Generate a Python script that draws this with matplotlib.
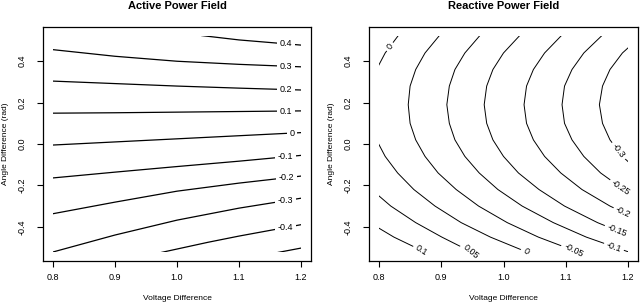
import numpy as np
import matplotlib.pyplot as plt
from matplotlib.patches import Rectangle

plt.rcParams['font.family'] = ['Liberation Sans', 'DejaVu Sans']

# data range of the grid (voltage, angle)
v_range = (0.8, 1.2)
a_range = (-0.5236, 0.5236)

# %% active power field: contour lines
active_levels = ['0.4', '0.3', '0.2', '0.1', '0', '-0.1', '-0.2', '-0.3', '-0.4', '-0.5']
active_v = [
    [1.04, 1.1, 1.2],
    [0.8, 0.9, 1.0, 1.1, 1.2],
    [0.8, 0.9, 1.0, 1.1, 1.2],
    [0.8, 0.9, 1.0, 1.1, 1.2],
    [0.8, 0.9, 1.0, 1.1, 1.2],
    [0.8, 0.9, 1.0, 1.1, 1.2],
    [0.8, 0.9, 1.0, 1.1, 1.2],
    [0.8, 0.9, 1.0, 1.1, 1.2],
    [0.975, 1.05, 1.1, 1.2],
    [1.163, 1.2],
]
active_angle = [
    [0.524, 0.503, 0.478],
    [0.456, 0.424, 0.400, 0.385, 0.373],
    [0.304, 0.292, 0.280, 0.270, 0.261],
    [0.149, 0.151, 0.154, 0.157, 0.160],
    [-0.005, 0.010, 0.025, 0.040, 0.055],
    [-0.164, -0.136, -0.109, -0.083, -0.055],
    [-0.337, -0.281, -0.228, -0.189, -0.155],
    [-0.522, -0.440, -0.368, -0.310, -0.262],
    [-0.524, -0.475, -0.445, -0.390],
    [-0.524, -0.503],
]
# voltage where each label sits (None = unlabelled)
active_label_v = [1.175, 1.175, 1.175, 1.175, 1.185, 1.175, 1.177, 1.175, 1.175, None]

# %% reactive power field: voltage of each arc at shared angles
reactive_theta = [0.524, 0.44, 0.36, 0.28, 0.19, 0.10, 0.02, -0.06,
                  -0.14, -0.22, -0.30, -0.38, -0.45, -0.524]
reactive_levels = ['0.1', '0.05', '0', '-0.05', '-0.1', '-0.15', '-0.2', '-0.25', '-0.3']
reactive_v = [
    [0.700, 0.682, 0.671, 0.664, 0.661, 0.664, 0.671, 0.682, 0.699, 0.721, 0.749, 0.785, 0.824, 0.875],
    [0.765, 0.746, 0.734, 0.726, 0.723, 0.726, 0.734, 0.746, 0.764, 0.788, 0.819, 0.859, 0.901, 0.950],
    [0.831, 0.810, 0.796, 0.788, 0.785, 0.788, 0.796, 0.810, 0.830, 0.856, 0.890, 0.932, 0.979, 1.039],
    [0.897, 0.874, 0.859, 0.850, 0.847, 0.850, 0.859, 0.874, 0.895, 0.924, 0.960, 1.006, 1.056, 1.121],
    [0.962, 0.938, 0.922, 0.913, 0.909, 0.913, 0.922, 0.938, 0.961, 0.991, 1.030, 1.080, 1.133, 1.203],
    [1.026, 1.000, 0.983, 0.973, 0.969, 0.973, 0.983, 1.000, 1.024, 1.057, 1.098, 1.151, 1.208, 1.282],
    [1.093, 1.066, 1.048, 1.037, 1.033, 1.037, 1.048, 1.066, 1.092, 1.126, 1.171, 1.227, 1.288, 1.367],
    [1.158, 1.129, 1.110, 1.098, 1.094, 1.098, 1.110, 1.129, 1.156, 1.193, 1.240, 1.299, 1.364, 1.448],
    [1.222, 1.191, 1.171, 1.159, 1.154, 1.159, 1.171, 1.191, 1.220, 1.258, 1.308, 1.371, 1.439, 1.527],
]
# angle where each label sits along its arc
reactive_label_theta = [[-0.514], [-0.52], [0.47, -0.52], [-0.514], [-0.497],
                        [-0.418], [-0.33], [-0.21], [-0.034]]

x_ticks = [0.8, 0.9, 1.0, 1.1, 1.2]
x_ticklabels = ['0.8', '0.9', '1.0', '1.1', '1.2']
y_ticks = [-0.4, -0.2, 0.0, 0.2, 0.4]
y_ticklabels = ['-0.4', '-0.2', '0.0', '0.2', '0.4']


def setup_axes(ax, title):
    dv = 0.04 * (v_range[1] - v_range[0])
    da = 0.04 * (a_range[1] - a_range[0])
    ax.set_xlim(v_range[0] - dv, v_range[1] + dv)
    ax.set_ylim(a_range[0] - da, a_range[1] + da)
    ax.set_xticks(x_ticks)
    ax.set_xticklabels(x_ticklabels)
    ax.set_yticks(y_ticks)
    ax.set_yticklabels(y_ticklabels, rotation=90, va='center')
    ax.tick_params(direction='out', length=4, width=0.8, labelsize=6.5)
    ax.tick_params(axis='x', pad=5)
    ax.tick_params(axis='y', pad=8)
    for s in ax.spines.values():
        s.set_linewidth(0.9)
        s.set_zorder(4)
    ax.set_title(title, fontsize=8, fontweight='bold', pad=13)
    ax.set_xlabel('Voltage Difference', fontsize=6, labelpad=9)
    ax.set_ylabel('Angle Difference (rad)', fontsize=6, labelpad=6)


def clip_rect(ax):
    return Rectangle((v_range[0], a_range[0]), v_range[1] - v_range[0],
                     a_range[1] - a_range[0], transform=ax.transData)


def line_angle(ax, xs, ys):
    p = ax.transData.transform(np.column_stack((xs, ys)))
    ang = np.degrees(np.arctan2(p[1, 1] - p[0, 1], p[1, 0] - p[0, 0]))
    if ang > 90:
        ang -= 180
    if ang < -90:
        ang += 180
    return ang


fig = plt.figure(figsize=(6.4, 3.06), dpi=100)
ax1 = fig.add_axes([43 / 640, 45 / 306, 268 / 640, 234 / 306])
ax2 = fig.add_axes([369 / 640, 45 / 306, 269 / 640, 234 / 306])
setup_axes(ax1, 'Active Power Field')
setup_axes(ax2, 'Reactive Power Field')

lbl_box = dict(boxstyle='square,pad=0.3', fc='white', ec='none')

# left panel
for lev, vs, ang, lv in zip(active_levels, active_v, active_angle, active_label_v):
    ln, = ax1.plot(vs, ang, color='black', lw=0.9)
    ln.set_clip_path(clip_rect(ax1))
    if lv is not None:
        la = np.interp(lv, vs, ang)
        ax1.text(lv, la, lev, fontsize=6.5, ha='center', va='center',
                 bbox=lbl_box, zorder=3)

# right panel
th = np.array(reactive_theta)
for lev, vs, lts in zip(reactive_levels, reactive_v, reactive_label_theta):
    vs = np.array(vs)
    ln, = ax2.plot(vs, th, color='black', lw=0.7)
    ln.set_clip_path(clip_rect(ax2))
    for t in lts:
        lv = np.interp(t, th[::-1], vs[::-1])
        t0, t1 = t + 0.02, t - 0.02
        v0 = np.interp(t0, th[::-1], vs[::-1])
        v1 = np.interp(t1, th[::-1], vs[::-1])
        rot = line_angle(ax2, [v0, v1], [t0, t1])
        ax2.text(lv, t, lev, fontsize=6.5, ha='center', va='center',
                 rotation=rot, rotation_mode='anchor', bbox=lbl_box, zorder=3)

fig.savefig('out.png', dpi=100)
